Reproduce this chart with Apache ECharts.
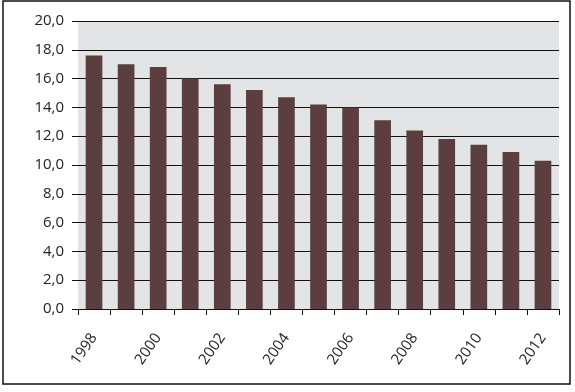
<!DOCTYPE html>
<html><head><meta charset="utf-8">
<script src="https://cdn.jsdelivr.net/npm/echarts@6/dist/echarts.min.js"></script>
<style>html,body{margin:0;padding:0;background:#fff}#c{width:575px;height:392px}</style>
</head><body><div id="c"></div>
<script>
const years = ['1998','1999','2000','2001','2002','2003','2004','2005','2006','2007','2008','2009','2010','2011','2012'];
const values = [17.6, 17.0, 16.8, 16.0, 15.6, 15.2, 14.7, 14.2, 14.0, 13.1, 12.4, 11.8, 11.4, 10.9, 10.3];
const yMin = 0, yMax = 20, yStep = 2;

const chart = echarts.init(document.getElementById('c'), null, {renderer:'canvas'});
const font = '"Open Sans", sans-serif';
chart.setOption({
  animation: false,
  grid: {left: 78, right: 16, top: 21, bottom: 83, show: true, backgroundColor: '#e3e4e6', borderWidth: 0},
  graphic: [{type:'rect', shape:{x:3, y:1, width:567, height:383}, style:{fill:'none', stroke:'#111', lineWidth:1.5}, silent:true, z:-1}],
  xAxis: {
    type: 'category', data: years,
    axisLine: {show: true, lineStyle: {color: '#111', width: 1}},
    axisTick: {show: true, alignWithLabel: false, interval: 0, length: 6, lineStyle: {color:'#111'}},
    axisLabel: {interval: 1, rotate: 55, color: '#222', fontSize: 15, fontFamily: font, margin: 26}
  },
  yAxis: {
    type: 'value', min: yMin, max: yMax, interval: yStep,
    axisLine: {show: false},
    axisTick: {show: true, length: 6, lineStyle: {color:'#111'}},
    splitLine: {show: true, lineStyle: {color: '#111', width: 1}},
    axisLabel: {color: '#222', fontSize: 15, fontFamily: font, margin: 14,
      formatter: v => v.toFixed(1).replace('.', ',')}
  },
  series: [{type: 'bar', data: values, barWidth: '52%', itemStyle: {color: '#5d3e3f'}}]
});
</script></body></html>
